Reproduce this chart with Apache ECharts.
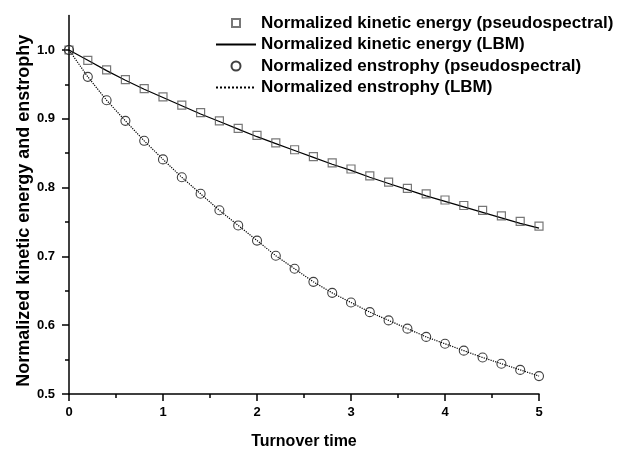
<!DOCTYPE html>
<html>
<head>
<meta charset="utf-8">
<script src="https://cdn.jsdelivr.net/npm/echarts@6/dist/echarts.min.js"></script>
<style>
html,body{margin:0;padding:0;background:#fff;}
#chart{width:617px;height:450px;}
</style>
</head>
<body>
<div id="chart"></div>
<script>
var turnoverTime = [0, 0.2, 0.4, 0.6, 0.8, 1.0, 1.2, 1.4, 1.6, 1.8, 2.0, 2.2, 2.4, 2.6, 2.8, 3.0, 3.2, 3.4, 3.6, 3.8, 4.0, 4.2, 4.4, 4.6, 4.8, 5.0];
var keSpectral = [1.000, 0.985, 0.971, 0.957, 0.944, 0.932, 0.920, 0.909, 0.897, 0.886, 0.876, 0.865, 0.855, 0.845, 0.836, 0.827, 0.817, 0.808, 0.799, 0.791, 0.782, 0.774, 0.767, 0.759, 0.751, 0.744];
var keLBM = [1.000, 0.985, 0.970, 0.956, 0.943, 0.931, 0.919, 0.907, 0.896, 0.885, 0.874, 0.864, 0.854, 0.844, 0.834, 0.825, 0.815, 0.806, 0.797, 0.788, 0.780, 0.772, 0.764, 0.756, 0.748, 0.741];
var ensSpectral = [1.000, 0.961, 0.927, 0.897, 0.868, 0.841, 0.815, 0.791, 0.767, 0.745, 0.723, 0.701, 0.682, 0.663, 0.647, 0.633, 0.619, 0.607, 0.595, 0.583, 0.573, 0.563, 0.553, 0.544, 0.535, 0.526];
var ensLBM = [1.000, 0.961, 0.927, 0.897, 0.868, 0.841, 0.815, 0.791, 0.767, 0.745, 0.723, 0.701, 0.682, 0.663, 0.647, 0.633, 0.619, 0.607, 0.595, 0.583, 0.573, 0.563, 0.553, 0.544, 0.535, 0.526];
var yMajorTicks = [0.5, 0.6, 0.7, 0.8, 0.9, 1.0];
var yMinorTicks = [0.55, 0.65, 0.75, 0.85, 0.95];
var seriesNames = [
  'Normalized kinetic energy (pseudospectral)',
  'Normalized kinetic energy (LBM)',
  'Normalized enstrophy (pseudospectral)',
  'Normalized enstrophy (LBM)'
];
var xTitle = 'Turnover time';
var yTitle = 'Normalized kinetic energy and enstrophy';

function pairs(xs, ys) {
  return xs.map(function (x, i) { return [x, ys[i]]; });
}

var FONT = "'Liberation Sans', Arial, sans-serif";
var axisLineStyle = { color: '#000', width: 1.5 };

var chart = echarts.init(document.getElementById('chart'), null, { renderer: 'canvas' });
chart.setOption({
  animation: false,
  backgroundColor: '#fff',
  textStyle: { fontFamily: FONT },
  grid: { left: 69, right: 78, top: 15.6, bottom: 56, containLabel: false, outerBoundsMode: 'none' },
  legend: {
    orient: 'vertical',
    left: 210,
    top: 9.5,
    itemWidth: 40,
    itemHeight: 14,
    itemGap: 4.5,
    symbolKeepAspect: true,
    textStyle: { fontFamily: FONT, fontSize: 17, fontWeight: 'bold', color: '#000', lineHeight: 17 },
    data: [
      { name: seriesNames[0], icon: 'path://M0,0M14,14M3,3L11,3L11,11L3,11Z' },
      { name: seriesNames[1] },
      { name: seriesNames[2], icon: 'path://M0,0M14,14M11.5,7A4.5,4.5,0,1,1,2.5,7A4.5,4.5,0,1,1,11.5,7Z' },
      { name: seriesNames[3] }
    ]
  },
  xAxis: {
    type: 'value',
    min: 0,
    max: 5,
    interval: 1,
    name: xTitle,
    nameLocation: 'middle',
    nameGap: 40,
    nameMoveOverlap: false,
    nameTextStyle: { fontFamily: FONT, fontSize: 16, fontWeight: 'bold', color: '#000' },
    axisLine: { show: true, onZero: false, lineStyle: axisLineStyle },
    axisTick: { show: true, inside: false, length: 7, lineStyle: { color: '#000', width: 1.5 } },
    minorTick: { show: true, splitNumber: 2, length: 4, lineStyle: { color: '#000', width: 1.5 } },
    axisLabel: { margin: 12, fontFamily: FONT, fontSize: 13, fontWeight: 'bold', color: '#000' },
    splitLine: { show: false },
    minorSplitLine: { show: false }
  },
  yAxis: [
    {
      type: 'value',
      min: 0.5,
      max: 1.05,
      position: 'left',
      name: yTitle,
      nameLocation: 'middle',
      nameGap: 36,
      nameMoveOverlap: false,
      nameTextStyle: { fontFamily: FONT, fontSize: 18, fontWeight: 'bold', color: '#000', padding: [0, 12, 0, 0] },
      axisLine: { show: true, onZero: false, lineStyle: axisLineStyle },
      axisTick: { show: true, inside: false, length: 7, customValues: yMajorTicks, lineStyle: { color: '#000', width: 1.5 } },
      axisLabel: {
        margin: 14, fontFamily: FONT, fontSize: 13, fontWeight: 'bold', color: '#000',
        customValues: yMajorTicks,
        formatter: function (v) { return v.toFixed(1); }
      },
      splitLine: { show: false }
    },
    {
      type: 'value',
      min: 0.5,
      max: 1.05,
      position: 'left',
      offset: 0,
      axisLine: { show: false },
      axisTick: { show: true, inside: false, length: 4, customValues: yMinorTicks, lineStyle: { color: '#000', width: 1.5 } },
      axisLabel: { show: false },
      splitLine: { show: false }
    }
  ],
  series: [
    {
      name: seriesNames[1],
      type: 'line',
      data: pairs(turnoverTime, keLBM),
      symbol: 'none',
      showSymbol: false,
      lineStyle: { color: '#000', width: 1.2, type: 'solid' },
      itemStyle: { color: 'rgba(0,0,0,0)', borderWidth: 0 },
      z: 2
    },
    {
      name: seriesNames[3],
      type: 'line',
      data: pairs(turnoverTime, ensLBM),
      symbol: 'none',
      showSymbol: false,
      lineStyle: { color: '#000', width: 1.2, type: 'dotted' },
      itemStyle: { color: 'rgba(0,0,0,0)', borderWidth: 0 },
      z: 2
    },
    {
      name: seriesNames[0],
      type: 'scatter',
      data: pairs(turnoverTime, keSpectral),
      symbol: 'rect',
      symbolSize: 8,
      itemStyle: { color: 'rgba(255,255,255,0)', borderColor: '#555', borderWidth: 1.2 },
      z: 3
    },
    {
      name: seriesNames[2],
      type: 'scatter',
      data: pairs(turnoverTime, ensSpectral),
      symbol: 'circle',
      symbolSize: 9,
      itemStyle: { color: 'rgba(255,255,255,0)', borderColor: '#111', borderWidth: 1.1 },
      z: 3
    }
  ]
});
</script>
</body>
</html>
